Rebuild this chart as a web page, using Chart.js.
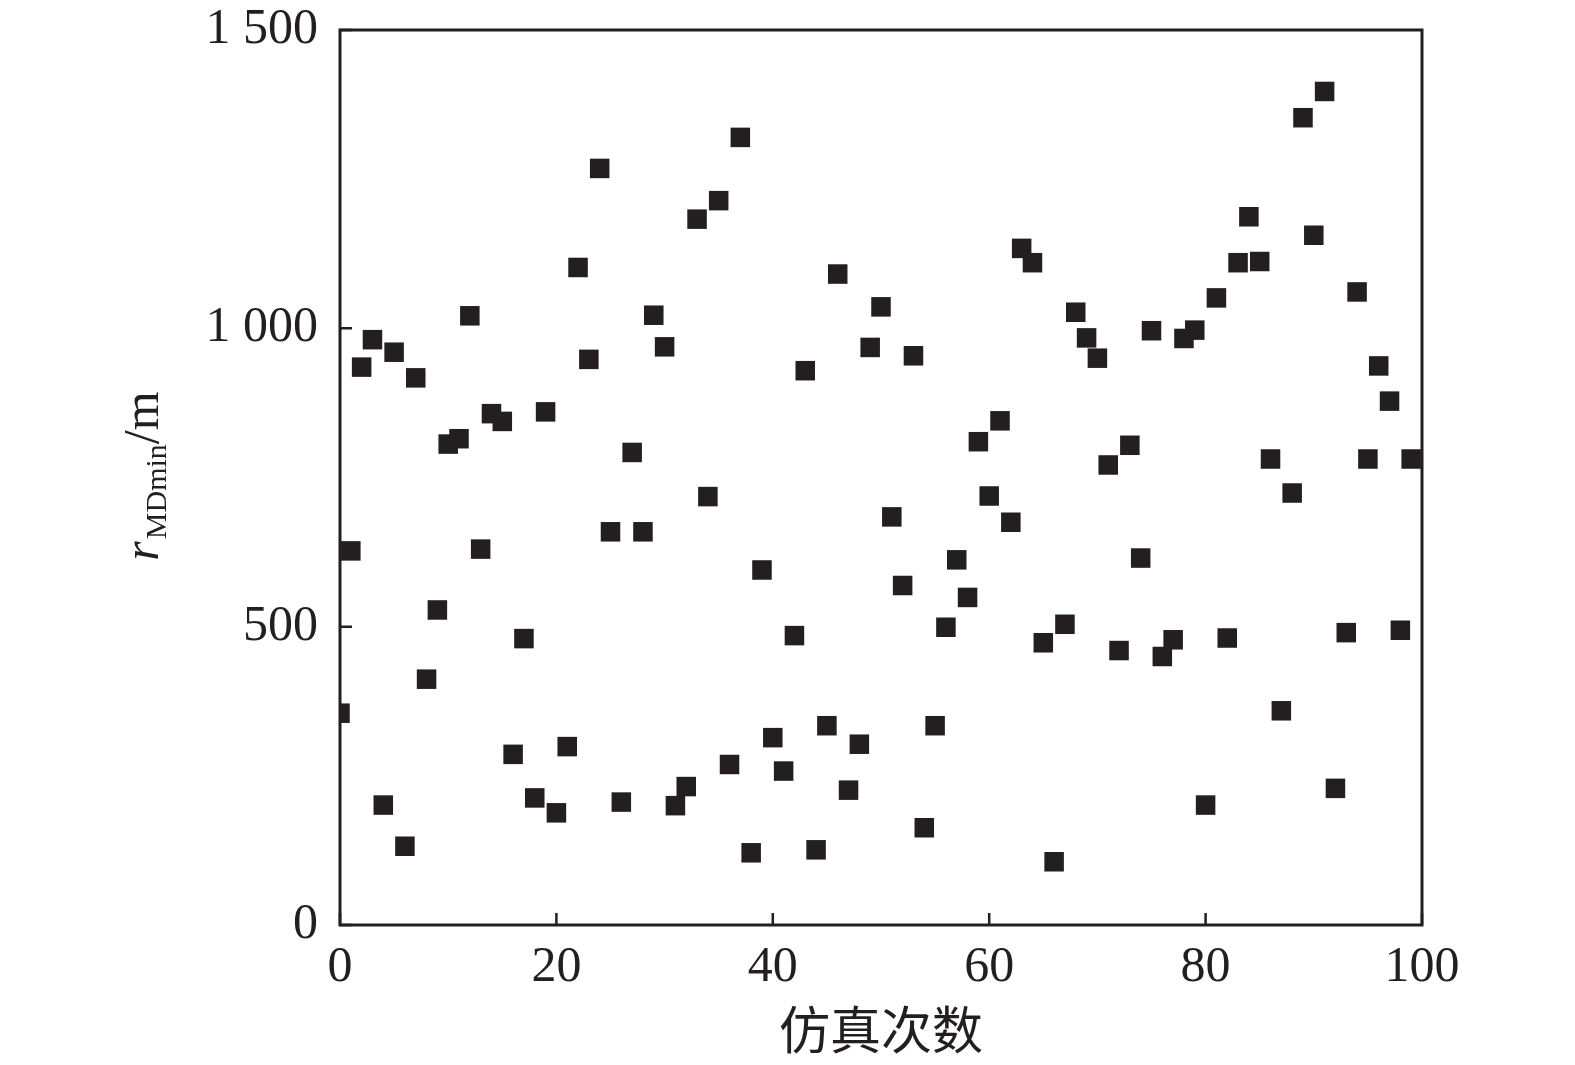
<!DOCTYPE html>
<html>
<head>
<meta charset="utf-8">
<script src="https://cdn.jsdelivr.net/npm/chart.js@4.4.1/dist/chart.umd.min.js"></script>
<style>
html, body { margin: 0; padding: 0; background: #fff; }
</style>
</head>
<body>
<canvas id="c" width="1575" height="1065"></canvas>
<script>
// 仿真次数 (x) and r_MDmin in metres (y)
const runs = [];
for (let i = 0; i < 100; i++) runs.push(i);
const rMin = [
  355, 627, 935, 981, 201, 960, 132, 917, 412, 528,
  806, 815, 1021, 630, 857, 844, 286, 480, 213, 860,
  188, 299, 1102, 948, 1268, 659, 206, 792, 659, 1022,
  969, 200, 232, 1183, 718, 1214, 269, 1320, 121, 595,
  314, 258, 485, 929, 126, 334, 1091, 226, 303, 968,
  1036, 684, 569, 954, 163, 334, 499, 612, 549, 810,
  719, 845, 675, 1134, 1110, 473, 106, 504, 1027, 984,
  950, 771, 460, 804, 615, 996, 450, 478, 983, 997,
  201, 1051, 481, 1110, 1187, 1112, 781, 359, 724, 1353,
  1156, 1397, 229, 490, 1061, 781, 937, 878, 494, 781
];
const xTicks = [0, 20, 40, 60, 80, 100];
const yTicks = [0, 500, 1000, 1500];

const ink = '#231f20';
const serif = "'Liberation Serif', 'Times New Roman', serif";

// 1500 -> "1 500"
function fmt(v) {
  if (v < 1000) return String(v);
  const s = String(v);
  return s.slice(0, s.length - 3) + ' ' + s.slice(-3);
}

// frame, inward ticks and the two axis titles
const framePlugin = {
  id: 'frame',
  afterDatasetsDraw(chart) {
    const ctx = chart.ctx;
    const a = chart.chartArea;
    const x = chart.scales.x, y = chart.scales.y;
    ctx.save();
    ctx.strokeStyle = ink;
    ctx.lineWidth = 3;
    ctx.strokeRect(a.left, a.top, a.right - a.left, a.bottom - a.top);

    ctx.lineWidth = 2.5;
    ctx.beginPath();
    xTicks.forEach(v => {
      const px = x.getPixelForValue(v);
      ctx.moveTo(px, a.bottom);
      ctx.lineTo(px, a.bottom - 12);
    });
    yTicks.forEach(v => {
      const py = y.getPixelForValue(v);
      ctx.moveTo(a.left, py);
      ctx.lineTo(a.left + 12, py);
    });
    ctx.stroke();

    ctx.fillStyle = ink;

    // x title
    ctx.font = "51px 'Noto Sans CJK SC', sans-serif";
    ctx.textAlign = 'center';
    ctx.textBaseline = 'middle';
    ctx.fillText('仿真次数', (a.left + a.right) / 2, 1030);

    // y title: r_MDmin/m, rotated
    const fMain = 'italic 50px ' + serif;
    const fSub = '30px ' + serif;
    const fUnit = '50px ' + serif;
    ctx.font = fMain; const w1 = ctx.measureText('r').width;
    ctx.font = fSub; const w2 = ctx.measureText('MDmin').width;
    ctx.font = fUnit; const w3 = ctx.measureText('/m').width;
    const total = w1 + w2 + w3 + 2;
    ctx.translate(158, 476);
    ctx.rotate(-Math.PI / 2);
    ctx.textAlign = 'left';
    ctx.textBaseline = 'alphabetic';
    let cx = -total / 2;
    ctx.font = fMain; ctx.fillText('r', cx, 0); cx += w1 + 2;
    ctx.font = fSub; ctx.fillText('MDmin', cx, 8); cx += w2;
    ctx.font = fUnit; ctx.fillText('/m', cx, 0);
    ctx.restore();
  }
};

new Chart(document.getElementById('c'), {
  type: 'scatter',
  data: {
    datasets: [{
      data: runs.map((r, i) => ({ x: r, y: rMin[i] })),
      pointStyle: 'rect',
      pointRadius: 13.8,
      pointHoverRadius: 13.8,
      backgroundColor: ink,
      borderWidth: 0,
      clip: 0
    }]
  },
  options: {
    responsive: false,
    animation: false,
    devicePixelRatio: 1,
    layout: { padding: { top: 30, right: 153, left: 0, bottom: 0 } },
    plugins: {
      legend: { display: false },
      tooltip: { enabled: false }
    },
    scales: {
      x: {
        type: 'linear',
        min: 0,
        max: 100,
        afterBuildTicks: s => { s.ticks = xTicks.map(v => ({ value: v })); },
        afterFit: s => { s.height = 140; s.paddingLeft = 0; s.paddingRight = 0; },
        grid: { display: false, drawTicks: false },
        border: { display: false },
        ticks: {
          font: { family: serif, size: 50 },
          color: ink,
          padding: 13,
          maxRotation: 0,
          autoSkip: false
        }
      },
      y: {
        type: 'linear',
        min: 0,
        max: 1500,
        afterBuildTicks: s => { s.ticks = yTicks.map(v => ({ value: v })); },
        afterFit: s => { s.width = 340; s.paddingTop = 0; s.paddingBottom = 0; },
        grid: { display: false, drawTicks: false },
        border: { display: false },
        ticks: {
          font: { family: serif, size: 50 },
          color: ink,
          padding: 22,
          callback: v => fmt(v)
        }
      }
    }
  },
  plugins: [framePlugin]
});
</script>
</body>
</html>
